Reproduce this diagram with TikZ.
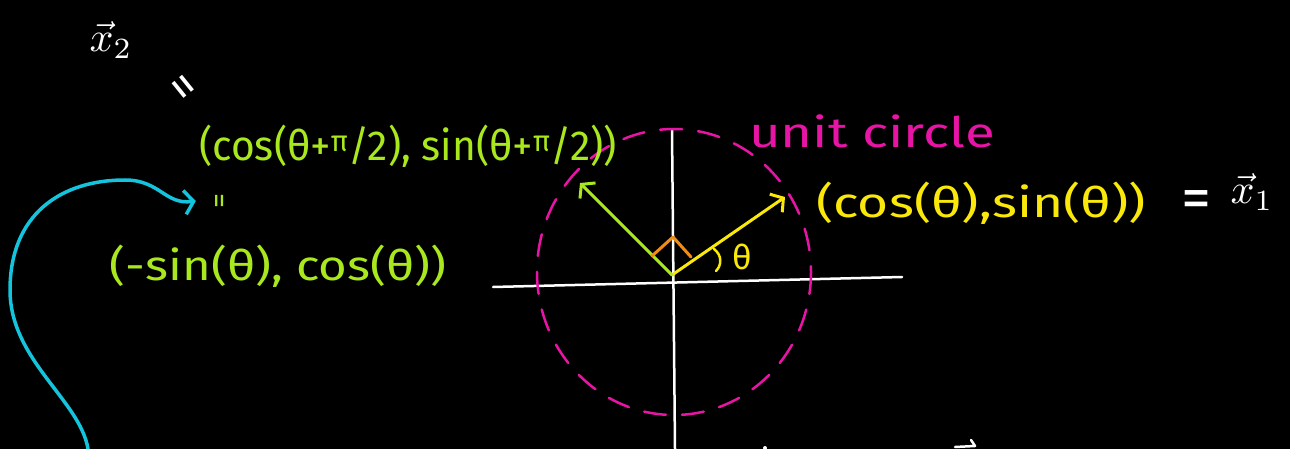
\documentclass[tikz,border=0pt]{standalone}
\usepackage{fontspec}
\setmainfont{Fira Sans}
\usetikzlibrary{arrows.meta}
\definecolor{lime}{RGB}{170,232,30}
\definecolor{yel}{RGB}{250,232,10}
\definecolor{mag}{RGB}{232,20,165}
\definecolor{cyn}{RGB}{20,195,220}
\definecolor{org}{RGB}{240,140,20}
\begin{document}
\begin{tikzpicture}[x=1pt,y=-1pt,line cap=round,line join=round,
  hand/.style={font=\fontsize{42}{42}\selectfont,inner sep=0pt},
  vecname/.style={white,inner sep=0pt,scale=4.2},
  vecarrow/.style={line width=3pt,-{Straight Barb[length=9pt,width=22pt,line width=3pt]}},
  axis/.style={white,line width=2.5pt},
  circ/.style={mag,line width=2.5pt,dash pattern=on 22pt off 16pt}]
\fill[black] (0,0) rectangle (1290,449);
\useasboundingbox (0,0) rectangle (1290,449);
% axes
\coordinate (xl) at (493,287); \coordinate (xr) at (902,277);
\coordinate (yt) at (672,130); \coordinate (yb) at (675,449);
\draw[axis] (xl) -- (xr);
\draw[axis] (yt) -- (yb);
% unit circle
\draw[circ] (674,272) ellipse [x radius=137, y radius=143];
% vectors
\coordinate (O) at (672,275);
\coordinate (t1) at (785,197);
\coordinate (t2) at (580,183);
\draw[vecarrow,yel] (O) -- (t1);
\draw[vecarrow,lime] (O) -- (t2);
% right angle mark
\coordinate (ra1) at (652,256); \coordinate (ra2) at (673,237); \coordinate (ra3) at (691,257);
\draw[org,line width=3pt] (ra1) -- (ra2) -- (ra3);
% theta arc
\coordinate (th1) at (714,249); \coordinate (th2) at (716,271);
\draw[yel,line width=2.5pt] (th1) .. controls (722,255) and (722,265) .. (th2);
\node[hand,yel,font=\fontsize{34}{34}\selectfont] (theta) at (742,257) {θ};
% labels
\node[hand,mag,xscale=1.3] (unit) at (872,131) {unit circle};
\node[hand,yel,xscale=1.27] (x1coord) at (981,203) {(cos(θ),sin(θ))};
\node[hand,white,font=\fontsize{60}{60}\selectfont] (eq1) at (1196,205) {=};
\node[vecname] (x1) at (1252,192) {\(\vec{x}_1\)};
\node[vecname] (x2) at (111,40) {\(\vec{x}_2\)};
\node[hand,white,rotate=-51,font=\fontsize{50}{50}\selectfont] (eq2) at (179,90) {=};
\node[hand,lime,xscale=0.97] (x2a) at (408,146) {(cos(θ+\textsuperscript{π}/2), sin(θ+\textsuperscript{π}/2))};
\node[hand,lime,rotate=90,font=\fontsize{30}{30}\selectfont] (eq3) at (223,201) {=};
\node[hand,lime,xscale=1.17] (x2b) at (278,266) {(-sin(θ), cos(θ))};
% cyan curve
\coordinate (cs) at (88,449);
\draw[cyn,line width=3.5pt,-{Straight Barb[length=9pt,width=24pt,line width=3.5pt]}]
  (cs) .. controls (80,400) and (10,360) .. (10,290)
  .. controls (10,215) and (60,180) .. (125,180)
  .. controls (160,180) and (165,205) .. ([xshift=-20pt]eq3.north);
% bottom fragments
\coordinate (f1) at (955,447); \coordinate (f2) at (975,446); \coordinate (f3) at (971,440);
\draw[white,line width=2.5pt] (f1) -- (f2) -- (f3);
\fill[white] (765,448) circle (2pt);
\end{tikzpicture}
\end{document}
